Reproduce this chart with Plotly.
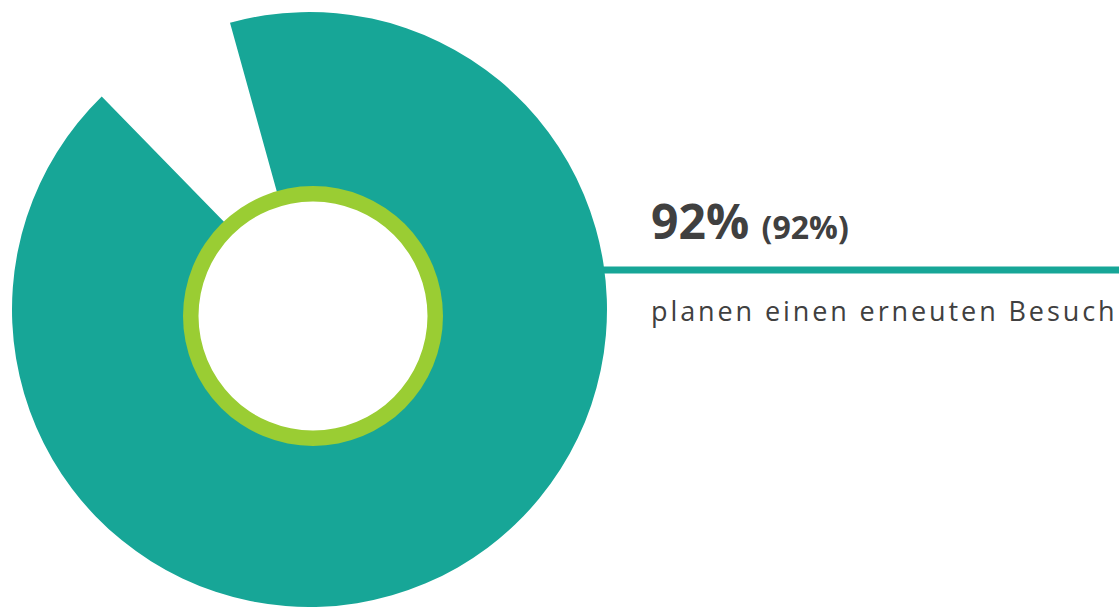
import plotly.graph_objects as go

# Daten
share_labels = ["planen einen erneuten Besuch", "sonstige"]
share_values = [92, 8]
share_colors = ["#17a697", "rgba(0,0,0,0)"]
headline_value = "92%"
headline_sub = "(92%)"
caption = "planen einen erneuten Besuch"

W, H = 1119, 607
TEAL = "#17a697"
GREEN = "#9acd33"
TEXT = "#404040"


def px_x(px):
    return px / W


def px_y(px):
    return 1 - px / H


fig = go.Figure()

# grosser Ring (92 %)
fig.add_trace(go.Pie(
    labels=share_labels,
    values=share_values,
    marker=dict(colors=share_colors, line=dict(width=0)),
    hole=0.38,
    sort=False,
    direction="clockwise",
    rotation=-15.5,
    textinfo="none",
    hoverinfo="label+percent",
    domain=dict(x=[px_x(12), px_x(607)], y=[0, px_y(12)]),
    showlegend=False,
))

# gruener Innenring: gruene Scheibe + weisse Scheibe darueber
fig.add_trace(go.Pie(
    labels=[""],
    values=[1],
    marker=dict(colors=[GREEN], line=dict(width=0)),
    textinfo="none",
    hoverinfo="skip",
    domain=dict(x=[px_x(183), px_x(443)], y=[px_y(446), px_y(186)]),
    showlegend=False,
))
fig.add_trace(go.Pie(
    labels=[""],
    values=[1],
    marker=dict(colors=["white"], line=dict(width=0)),
    textinfo="none",
    hoverinfo="skip",
    domain=dict(x=[px_x(198.5), px_x(427.5)], y=[px_y(430.5), px_y(201.5)]),
    showlegend=False,
))

# Trennlinie
fig.add_shape(
    type="line", xref="paper", yref="paper",
    x0=px_x(600), x1=1, y0=px_y(270), y1=px_y(270),
    line=dict(color=TEAL, width=7), layer="below",
)

fig.add_annotation(
    xref="paper", yref="paper", x=px_x(649), y=px_y(220),
    xanchor="left", yanchor="middle", showarrow=False,
    text=f"<b>{headline_value}</b> <b><span style='font-size:32px'>{headline_sub}</span></b>",
    font=dict(family="Open Sans", size=48, color=TEXT),
)

fig.add_annotation(
    xref="paper", yref="paper", x=px_x(649), y=px_y(310),
    xanchor="left", yanchor="middle", showarrow=False,
    text=f"<span style='letter-spacing:2.9px'>{caption}</span>",
    font=dict(family="Open Sans", size=27, color=TEXT),
)

fig.update_layout(
    width=W, height=H,
    margin=dict(l=0, r=0, t=0, b=0),
    paper_bgcolor="white",
    plot_bgcolor="white",
    showlegend=False,
)

fig.write_html(
    "out.html",
    config={"displayModeBar": False},
    post_script="document.body.style.margin='0';",
)
